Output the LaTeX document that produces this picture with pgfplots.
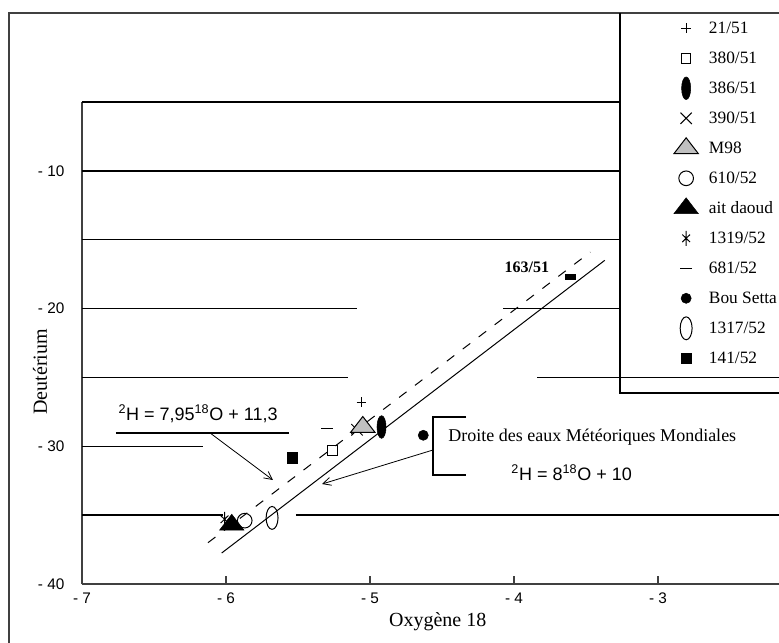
\documentclass[border=0pt]{standalone}
\usepackage{pgfplots}
\pgfplotsset{compat=1.18}
\usepackage{fontspec}
\setmainfont{Liberation Serif}
\newfontfamily\ticksfont{Liberation Sans}
\usetikzlibrary{arrows.meta}
\definecolor{axgray}{HTML}{404040}
\definecolor{trigray}{HTML}{C0C0C0}
\begin{document}
\begin{tikzpicture}
\begin{axis}[
  at={(0,0)}, anchor=south west,
  scale only axis, width=522.75pt, height=361.5pt,
  xmin=-7, xmax=-2.1597, ymin=-40, ymax=-5,
  axis x line*=bottom, axis y line*=left,
  axis line style={draw=axgray, line width=1.5pt, -},
  clip=false,
  xtick={-7,-6,-5,-4,-3},
  xticklabels={\mbox{- 7},\mbox{- 6},\mbox{- 5},\mbox{- 4},\mbox{- 3}},
  ytick={-40,-30,-20,-10},
  yticklabels={\mbox{- 40},\mbox{- 30},\mbox{- 20},\mbox{- 10}},
  tick align=inside, major tick length=6pt,
  xtick style={draw=axgray, line width=1pt},
  ytick style={draw=none},
  ticklabel style={font=\ticksfont\fontsize{11.5pt}{13pt}\selectfont},
  xticklabel style={anchor=north, inner sep=0pt, yshift=-6.5pt},
  yticklabel style={anchor=east, inner sep=0pt, xshift=-13pt},
  legend style={at={(axis description cs:0.849,1.1846)}, anchor=north west,
    draw=none, fill=none, inner sep=0pt, row sep=0pt, column sep=8pt,
    font=\fontsize{13pt}{15pt}\selectfont,
    nodes={inner sep=0pt, minimum height=22.5pt}},
  legend cell align=left,
]
% data points (legend order)
\addplot[only marks, mark=+, mark size=3.6pt, line width=0.75pt] coordinates {(-5.06,-26.8)};
\addlegendentry{21/51}
\addplot[only marks, mark=square, mark size=3.6pt, line width=0.75pt] coordinates {(-5.26,-30.3)};
\addlegendentry{380/51}
\addplot[only marks, mark=*, mark size=8.5pt, mark options={xscale=0.4, fill=black}] coordinates {(-4.92,-28.6)};
\addlegendentry{386/51}
\addplot[only marks, mark=x, mark size=6pt, line width=0.75pt] coordinates {(-5.09,-28.8)};
\addlegendentry{390/51}
\addplot[only marks, mark=triangle*, mark size=10.5pt, mark options={yscale=0.75, fill=trigray, draw=black, line width=0.75pt}] coordinates {(-5.05,-28.6)};
\addlegendentry{M98}
\addplot[only marks, mark=o, mark size=5.5pt, line width=0.75pt] coordinates {(-5.87,-35.4)};
\addlegendentry{610/52}
\addplot[only marks, mark=triangle*, mark size=10.5pt, mark options={yscale=0.75, fill=black, draw=black}] coordinates {(-5.96,-35.7)};
\addlegendentry{ait daoud}
\addplot[only marks, mark=asterisk, mark size=5.6pt, mark options={xscale=0.6}, line width=0.75pt] coordinates {(-6.01,-35.3)};
\addlegendentry{1319/52}
\addplot[only marks, mark=-, mark size=4.5pt, line width=0.9pt] coordinates {(-5.30,-28.7)};
\addlegendentry{681/52}
\addplot[only marks, mark=*, mark size=3.8pt, mark options={fill=black}] coordinates {(-4.63,-29.2)};
\addlegendentry{Bou Setta}
\addplot[only marks, mark=o, mark size=8.6pt, mark options={xscale=0.52}, line width=0.75pt] coordinates {(-5.68,-35.2)};
\addlegendentry{1317/52}
\addplot[only marks, mark=square*, mark size=4pt, mark options={fill=black}] coordinates {(-5.54,-30.85)};
\addlegendentry{141/52}
% 163/51
\addplot[forget plot, only marks, mark=square*, mark size=3.75pt, mark options={yscale=0.5, fill=black}] coordinates {(-3.61,-17.7)};
% meteoric water lines
\addplot[forget plot, black, line width=0.75pt] coordinates {(-6.03,-37.75) (-3.37,-16.5)};
\addplot[forget plot, black, line width=0.75pt, dash pattern=on 7pt off 8pt] coordinates {(-6.125,-37.0) (-3.47,-15.9)};
% horizontal lines
\addplot[forget plot, black, line width=1.1pt] coordinates {(-7,-5) (-3.264,-5)};
\addplot[forget plot, black, line width=1.1pt] coordinates {(-7,-10) (-3.264,-10)};
\addplot[forget plot, black, line width=1.1pt] coordinates {(-7,-15) (-3.264,-15)};
\addplot[forget plot, black, line width=1.1pt] coordinates {(-7,-20) (-5.09,-20)};
\addplot[forget plot, black, line width=1.1pt] coordinates {(-4.076,-20) (-3.264,-20)};
\addplot[forget plot, black, line width=1.1pt] coordinates {(-7,-25) (-5.153,-25)};
\addplot[forget plot, black, line width=1.1pt] coordinates {(-3.84,-25) (-1.9,-25)};
\addplot[forget plot, black, line width=1.1pt] coordinates {(-7,-30) (-6.16,-30)};
\addplot[forget plot, black, line width=1.1pt] coordinates {(-7,-35) (-6.021,-35)};
\addplot[forget plot, black, line width=1.1pt] coordinates {(-5.514,-35) (-1.9,-35)};
% frames
\draw[axgray, line width=1.1pt] (axis cs:-7.507,-48) |- (axis cs:-1.8,1.46);
\draw[black, line width=1.1pt] (axis cs:-1.8,-26.13) -| (axis cs:-3.264,1.46);
% annotations
\node[font=\ticksfont\fontsize{13.5pt}{15pt}\selectfont] at (axis cs:-6.194,-27.65) {\textsuperscript{2}H = 7,95\textsuperscript{18}O + 11,3};
\draw[black, line width=0.9pt] (axis cs:-6.764,-29.03) -- (axis cs:-5.5625,-29.03);
\draw[black, line width=0.6pt, -{Straight Barb[length=6pt,width=6pt]}] (axis cs:-6.111,-29.03) -- (axis cs:-5.674,-32.45);
\draw[black, line width=0.9pt] (axis cs:-4.333,-27.87) -| (axis cs:-4.5625,-32.08) -- (axis cs:-4.333,-32.08);
\draw[black, line width=0.6pt, -{Straight Barb[length=6pt,width=6pt]}] (axis cs:-4.5625,-30.27) -- (axis cs:-5.333,-32.74);
\node[anchor=west, inner sep=0pt, font=\fontsize{13.5pt}{15pt}\selectfont] at (axis cs:-4.458,-29.33) {Droite des eaux Météoriques Mondiales};
\node[font=\ticksfont\fontsize{13.5pt}{15pt}\selectfont] at (axis cs:-3.60,-31.9) {\textsuperscript{2}H = 8\textsuperscript{18}O + 10};
\node[font=\bfseries\fontsize{12pt}{14pt}\selectfont] at (axis cs:-3.91,-16.98) {163/51};
\node[font=\fontsize{15pt}{17pt}\selectfont] at (axis cs:-4.53,-42.76) {Oxygène 18};
\node[rotate=90, font=\fontsize{15pt}{17pt}\selectfont] at (axis cs:-7.292,-24.6) {Deutérium};
\end{axis}
\pgfresetboundingbox
\useasboundingbox (-61.5pt,-44.25pt) rectangle (522.75pt,438pt);
\end{tikzpicture}
\end{document}
